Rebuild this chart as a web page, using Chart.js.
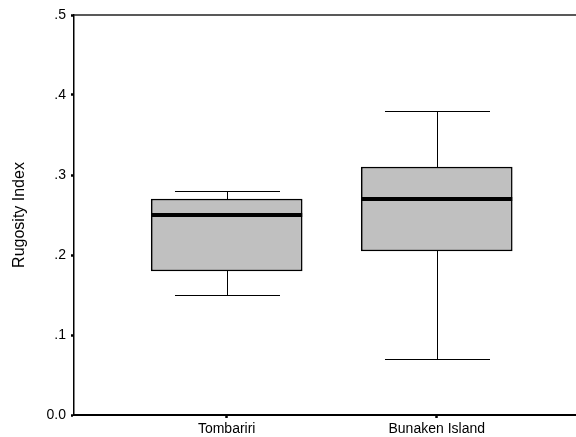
<!DOCTYPE html>
<html>
<head>
<meta charset="utf-8">
<script src="https://cdn.jsdelivr.net/npm/chart.js@4"></script>
<style>
  html, body { margin: 0; padding: 0; background: #fff; }
  #wrap { width: 576px; height: 437px; position: relative; }
</style>
</head>
<body>
<div id="wrap"><canvas id="boxChart"></canvas></div>
<script>
// datos
const categories = ["Tombariri", "Bunaken Island"];
const whiskerLow = [0.15, 0.07];
const q1 = [0.18, 0.205];
const median = [0.25, 0.27];
const q3 = [0.27, 0.31];
const whiskerHigh = [0.28, 0.38];
const yTicks = [0, 0.1, 0.2, 0.3, 0.4, 0.5];

const font = "Arial, 'Liberation Sans', sans-serif";

// bigotes, medianas y linea superior
const boxExtras = {
  id: "boxExtras",
  beforeDatasetsDraw(chart) {
    const { ctx, scales: { x, y } } = chart;
    ctx.save();
    ctx.strokeStyle = "#000";
    ctx.lineWidth = 1;
    categories.forEach((c, i) => {
      const cx = Math.round(x.getPixelForValue(i + 1)) + 0.5;
      const capHalf = x.getPixelForValue(i + 1.25) - x.getPixelForValue(i + 1);
      const yLo = Math.round(y.getPixelForValue(whiskerLow[i])) + 0.5;
      const yHi = Math.round(y.getPixelForValue(whiskerHigh[i])) + 0.5;
      ctx.beginPath();
      ctx.moveTo(cx, yLo);
      ctx.lineTo(cx, y.getPixelForValue(q1[i]));
      ctx.moveTo(cx, y.getPixelForValue(q3[i]));
      ctx.lineTo(cx, yHi);
      ctx.moveTo(cx - capHalf, yLo);
      ctx.lineTo(cx + capHalf, yLo);
      ctx.moveTo(cx - capHalf, yHi);
      ctx.lineTo(cx + capHalf, yHi);
      ctx.stroke();
    });
    ctx.restore();
  },
  afterDatasetsDraw(chart) {
    const { ctx, chartArea, scales: { y } } = chart;
    ctx.save();
    ctx.strokeStyle = "#000";
    ctx.lineWidth = 4;
    const meta = chart.getDatasetMeta(0);
    categories.forEach((c, i) => {
      const bar = meta.data[i];
      const ym = y.getPixelForValue(median[i]);
      ctx.beginPath();
      ctx.moveTo(bar.x - bar.width / 2, ym);
      ctx.lineTo(bar.x + bar.width / 2, ym);
      ctx.stroke();
    });
    ctx.lineWidth = 1.5;
    ctx.strokeStyle = "#222";
    ctx.beginPath();
    ctx.moveTo(chartArea.left, chartArea.top);
    ctx.lineTo(chartArea.right, chartArea.top);
    ctx.stroke();
    ctx.restore();
  }
};

new Chart(document.getElementById("boxChart"), {
  type: "bar",
  data: {
    datasets: [
      {
        label: "Rugosity Index",
        data: categories.map((c, i) => ({ x: i + 1, y: [q1[i], q3[i]] })),
        backgroundColor: "#c0c0c0",
        borderColor: "#000",
        borderWidth: 1.5,
        borderSkipped: false,
        barThickness: 151,
      },
    ],
  },
  options: {
    responsive: true,
    maintainAspectRatio: false,
    animation: false,
    layout: { padding: { top: 15, right: 0, left: 0, bottom: 0 } },
    plugins: { legend: { display: false }, tooltip: { enabled: false } },
    scales: {
      x: {
        type: "linear",
        min: 0.273,
        max: 2.663,
        offset: false,
        afterBuildTicks: (axis) => {
          axis.ticks = categories.map((c, i) => ({ value: i + 1 }));
        },
        afterFit: (axis) => { axis.height = 22; },
        ticks: {
          callback: (v) => categories[Math.round(v) - 1],
          color: "#000",
          padding: 3,
          maxRotation: 0,
          font: { family: font, size: 14 },
        },
        grid: {
          offset: false,
          drawOnChartArea: false,
          tickLength: 3,
          tickWidth: 2.5,
          tickColor: "#000",
        },
        border: { color: "#000", width: 2 },
      },
      y: {
        min: 0,
        max: 0.5,
        afterBuildTicks: (axis) => {
          axis.ticks = yTicks.map((v) => ({ value: v }));
        },
        afterFit: (axis) => { axis.width = 74; },
        ticks: {
          callback: (v) => (v === 0 ? "0.0" : "." + Math.round(v * 10)),
          color: "#000",
          padding: 5,
          font: { family: font, size: 14 },
        },
        grid: {
          drawOnChartArea: false,
          tickLength: 3,
          tickWidth: 2.5,
          tickColor: "#000",
        },
        border: { color: "#000", width: 1.5 },
        title: {
          display: true,
          text: "Rugosity Index",
          color: "#000",
          font: { family: font, size: 16 },
          padding: { top: 10, bottom: 0 },
        },
      },
    },
  },
  plugins: [boxExtras],
});
</script>
</body>
</html>
